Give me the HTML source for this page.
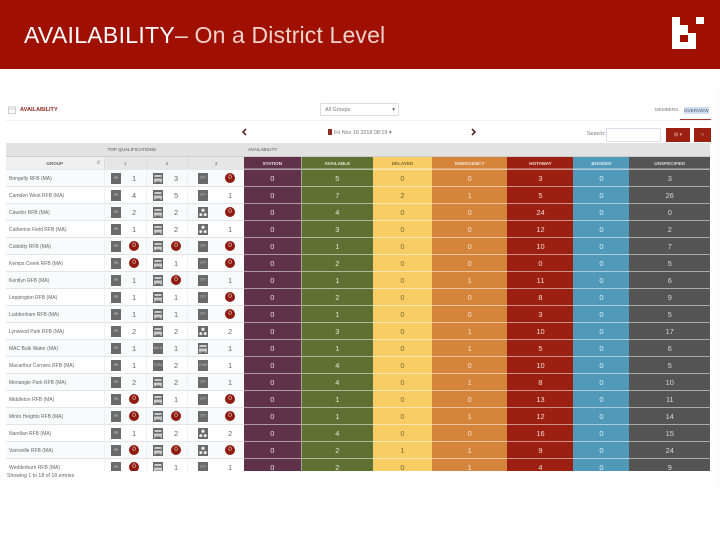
<!DOCTYPE html>
<html lang="en">
<head>
<meta charset="utf-8">
<title>Availability – On a District Level</title>
<style>
html,body{margin:0;padding:0;background:#fff}
body{width:720px;height:540px;position:relative;overflow:hidden;font-family:"Liberation Sans",sans-serif;color:#666}
.abs{position:absolute}
#banner{left:0;top:0;width:720px;height:69px;background:#a01000}
#title{left:24px;top:21px;font-size:23px;line-height:28px;color:#fff;white-space:nowrap;letter-spacing:.3px}
#title span{color:#f0d2cc;letter-spacing:.15px}
#content{left:0;top:90px;width:720px;height:400px;filter:blur(.35px)}
#wrap{left:6px;top:53px;width:704px;height:328px;overflow:hidden}
table{border-collapse:separate;border-spacing:0;table-layout:fixed;width:704px;font-size:6.5px}
td,th{padding:0;height:17px;text-align:center;position:relative;font-weight:normal;overflow:hidden;box-sizing:border-box}
tr.h1 th{height:14px;background:#e2e2e2;text-align:left;font-size:4.6px;color:#555;padding-left:4px;border-bottom:1px solid #ccc}
tr.h2 th{height:12.3px;font-size:4.6px;font-weight:bold}
tr.h2 th.sub{background:#e6e6e6;color:#666;font-weight:normal;border-left:1px solid #ddd}
tr.h2 th.grp{background:#f0f0f0;color:#666}
tr.h2 th.grp i{position:absolute;right:3px;top:3px;font-style:normal;color:#aaa}
.nm{text-align:left;padding-left:3px;padding-top:1px;font-size:5px;color:#666;border-top:1px solid #e4e4e4;white-space:nowrap}
.q{border-top:1px solid #e4e4e4;border-left:1px solid #f1f1f1;font-size:7.4px;color:#666}
tr.odd td.nm,tr.odd td.q{background:#f8fafb}
.ic{position:absolute;top:3px;width:10px;height:11px;background:#6a6a6a;color:#ccc;font-size:3.4px;line-height:11px;text-align:center;display:block}
.ic svg{display:block}
.v{position:absolute;top:3px;width:16px;line-height:12px;text-align:center}
.b{position:absolute;top:3px;width:10px;height:10px;border-radius:50%;background:#8e1a10;color:#f6d9d4;line-height:10px;text-align:center;font-size:6.5px}
.c1 .ic{left:6.5px}.c1 .v{left:21.5px}.c1 .b{left:24.5px}
.c2 .ic{left:6px}.c2 .v{left:21px}.c2 .b{left:24px}
.c3 .ic{left:10px}.c3 .v{left:34px}.c3 .b{left:37px}
.st{background:#5f3249;color:#e8dfe3}
.av{background:#5e7133;color:#e3e8d6}
.de{background:#f8cd66;color:#7a6630}
.em{background:#d5853b;color:#f7e3cc}
.ho{background:#9b2012;color:#f4d9d4}
.bo{background:#5199b8;color:#def0f6}
.un{background:#545454;color:#d8d8d8}
td.st,td.av,td.de,td.em,td.ho,td.bo,td.un{box-shadow:inset 0 1px 0 rgba(255,255,255,.5);font-size:7.4px;padding-top:1px}
th.st,th.av,th.de,th.em,th.ho,th.bo,th.un{box-shadow:inset 0 -1px 0 rgba(255,255,255,.3)}
td.st,th.st{border-right:1px solid #a9a0a4}
</style>
</head>
<body>
<div id="banner" class="abs"></div>
<div id="title" class="abs">AVAILABILITY<span>– On a District Level</span></div>
<svg class="abs" style="left:672px;top:17px" width="32" height="33" viewBox="0 0 32 33">
<path fill="#fff" d="M0 0H8V8H16V16H24V32H0Z M24 0H32V7H24Z"/><rect x="8" y="18" width="8" height="7" fill="#a01000"/>
</svg>
<div class="abs" style="left:718px;top:90px;width:1px;height:395px;background:#f5f5f5"></div>

<div id="content" class="abs">
  <svg class="abs" style="left:8px;top:16px" width="8" height="8" viewBox="0 0 8 8"><rect x=".5" y="1" width="7" height="6.5" fill="none" stroke="#ccc"/><path d="M0 3H8" stroke="#ccc"/></svg>
  <div class="abs" style="left:20px;top:16px;font-size:5.6px;line-height:8px;font-weight:bold;color:#8e2a20;white-space:nowrap">AVAILABILITY</div>
  <div class="abs" style="left:320px;top:13px;width:79px;height:13px;border:1px solid #ddd;border-radius:1px;box-sizing:border-box;font-size:5.4px;line-height:12px;padding-left:4px;color:#777">All Groups<span style="position:absolute;right:3px;top:0;color:#555">▾</span></div>
  <div class="abs" style="left:655px;top:17px;font-size:4.6px;line-height:6px;color:#777">MEMBERS</div>
  <div class="abs" style="left:684px;top:16.5px;font-size:4.6px;line-height:7px;color:#556;background:#cfdff0">OVERVIEW</div>
  <div class="abs" style="left:680px;top:29px;width:31px;height:1px;background:#a33"></div>
  <div class="abs" style="left:6px;top:30px;width:704px;height:1px;background:#f2f2f2"></div>
  <svg class="abs" style="left:241px;top:38px" width="6" height="8" viewBox="0 0 6 8"><path d="M5 1L2 4L5 7" fill="none" stroke="#5a2a25" stroke-width="1.6"/></svg>
  <div class="abs" style="left:328px;top:39px;width:4px;height:6px;background:#8e2a20"></div>
  <div class="abs" style="left:334px;top:39px;font-size:5.4px;line-height:8px;color:#777;white-space:nowrap">Fri Nov 16 2018 08:19 ▾</div>
  <svg class="abs" style="left:471px;top:38px" width="6" height="8" viewBox="0 0 6 8"><path d="M1 1L4 4L1 7" fill="none" stroke="#5a2a25" stroke-width="1.6"/></svg>
  <div class="abs" style="left:587px;top:41px;font-size:5.4px;line-height:7px;color:#777">Search:</div>
  <div class="abs" style="left:606px;top:38px;width:55px;height:14px;border:1px solid #dde;box-sizing:border-box"></div>
  <div class="abs" style="left:666px;top:38px;width:24px;height:14px;background:#9b2012;color:#e8b8b0;font-size:5px;line-height:14px;text-align:center">⊞ ▾</div>
  <div class="abs" style="left:694px;top:38px;width:17px;height:14px;background:#9b2012;color:#e8b8b0;font-size:6px;line-height:14px;text-align:center">○</div>

  <div id="wrap" class="abs">
    <table>
      <colgroup><col style="width:97.5px"><col style="width:42.5px"><col style="width:41px"><col style="width:57px"><col style="width:57.7px"><col style="width:71.3px"><col style="width:59px"><col style="width:75.5px"><col style="width:66px"><col style="width:56px"><col style="width:80.5px"></colgroup>
      <thead>
        <tr class="h1">
          <th></th>
          <th colspan="3">TOP QUALIFICATIONS</th>
          <th colspan="7">AVAILABILITY</th>
        </tr>
        <tr class="h2">
          <th class="grp">GROUP<i>⇵</i></th>
          <th class="sub">1</th>
          <th class="sub">2</th>
          <th class="sub">3</th>
          <th class="st">STATION</th>
          <th class="av">AVAILABLE</th>
          <th class="de">DELAYED</th>
          <th class="em">EMERGENCY</th>
          <th class="ho">HOTAWAY</th>
          <th class="bo">BOOKED</th>
          <th class="un">UNSPECIFIED</th>
        </tr>
      </thead>
      <tbody id="rows"></tbody>
    </table>
  </div>
  <div class="abs" style="left:7px;top:383px;font-size:5.2px;line-height:7px;color:#666;white-space:nowrap">Showing 1 to 18 of 18 entries</div>
</div>

<script>
const groups = ["Bringelly RFB (MA)","Camden West RFB (MA)","Cawdor RFB (MA)","Catherine Field RFB (MA)","Cobbitty RFB (MA)","Kemps Creek RFB (MA)","Kentlyn RFB (MA)","Leppington RFB (MA)","Luddenham RFB (MA)","Lynwood Park RFB (MA)","MAC Bulk Water (MA)","Macarthur Corners RFB (MA)","Menangle Park RFB (MA)","Middleton RFB (MA)","Minto Heights RFB (MA)","Narellan RFB (MA)","Varroville RFB (MA)","Wedderburn RFB (MA)"];
const qual1Types = ["PB","PB","PB","PB","PB","PB","PB","PB","PB","PB","PB","PB","PB","PB","PB","PB","PB","PB"];
const qual1Values = [1,4,2,1,0,0,1,1,1,2,1,1,2,0,0,1,0,0];
const qual2Types = ["truck","truck","truck","truck","truck","truck","truck","truck","truck","truck","BULK","COM","truck","truck","truck","truck","truck","truck"];
const qual2Values = [3,5,2,2,0,1,0,1,1,2,1,2,2,1,0,2,0,1];
const qual3Types = ["TFT","TFT","person","person","TFT","TFT","TFT","TFT","TFT","person","truck","COM","TFT","TFT","TFT","person","person","TFT"];
const qual3Values = [0,1,0,1,0,0,1,0,0,2,1,1,1,0,0,2,0,1];
const stationValues = [0,0,0,0,0,0,0,0,0,0,0,0,0,0,0,0,0,0];
const availableValues = [5,7,4,3,1,2,1,2,1,3,1,4,4,1,1,4,2,2];
const delayedValues = [0,2,0,0,0,0,0,0,0,0,0,0,0,0,0,0,1,0];
const emergencyValues = [0,1,0,0,0,0,1,0,0,1,1,0,1,0,1,0,1,1];
const hotawayValues = [3,5,24,12,10,0,11,8,3,10,5,10,8,13,12,16,9,4];
const bookedValues = [0,0,0,0,0,0,0,0,0,0,0,0,0,0,0,0,0,0];
const unspecifiedValues = [3,26,0,2,7,5,6,9,5,17,6,5,10,11,14,15,24,9];

const truckSvg = '<svg width="10" height="11" viewBox="0 0 10 11"><path d="M1.5 2H8.5V4H1.5Z M1 5.5H9V8.5H1Z" fill="#ccc"/><path d="M2 8.5V10M8 8.5V10" stroke="#ccc"/></svg>';
const personSvg = '<svg width="10" height="11" viewBox="0 0 10 11"><circle cx="5" cy="3.2" r="1.6" fill="#eee"/><circle cx="2.8" cy="7.6" r="1.5" fill="#eee"/><circle cx="7.2" cy="7.6" r="1.5" fill="#eee"/></svg>';

function qualCell(type, value, cls) {
  const td = document.createElement('td');
  td.className = 'q ' + cls;
  
  
  const ic = document.createElement('span');
  ic.className = 'ic';
  
  
  if (type === 'truck') ic.innerHTML = truckSvg;
  else if (type === 'person') ic.innerHTML = personSvg;
  else ic.textContent = type;
  td.appendChild(ic);
  const val = document.createElement('span');
  val.className = value === 0 ? 'b' : 'v';
  
  
  val.textContent = value;
  td.appendChild(val);
  return td;
}

function valueCell(value, cls) {
  const td = document.createElement('td');
  td.className = cls;
  
  
  td.textContent = value;
  return td;
}

const tbody = document.getElementById('rows');
groups.forEach(function (name, i) {
  const tr = document.createElement('tr');
  tr.className = i % 2 ? 'even' : 'odd';
  
  
  const nm = document.createElement('td');
  nm.className = 'nm';
  
  
  nm.textContent = name;
  tr.appendChild(nm);
  tr.appendChild(qualCell(qual1Types[i], qual1Values[i], 'c1'));
  tr.appendChild(qualCell(qual2Types[i], qual2Values[i], 'c2'));
  tr.appendChild(qualCell(qual3Types[i], qual3Values[i], 'c3'));
  tr.appendChild(valueCell(stationValues[i], 'st'));
  tr.appendChild(valueCell(availableValues[i], 'av'));
  tr.appendChild(valueCell(delayedValues[i], 'de'));
  tr.appendChild(valueCell(emergencyValues[i], 'em'));
  tr.appendChild(valueCell(hotawayValues[i], 'ho'));
  tr.appendChild(valueCell(bookedValues[i], 'bo'));
  tr.appendChild(valueCell(unspecifiedValues[i], 'un'));
  tbody.appendChild(tr);
});
</script>
</body>
</html>
